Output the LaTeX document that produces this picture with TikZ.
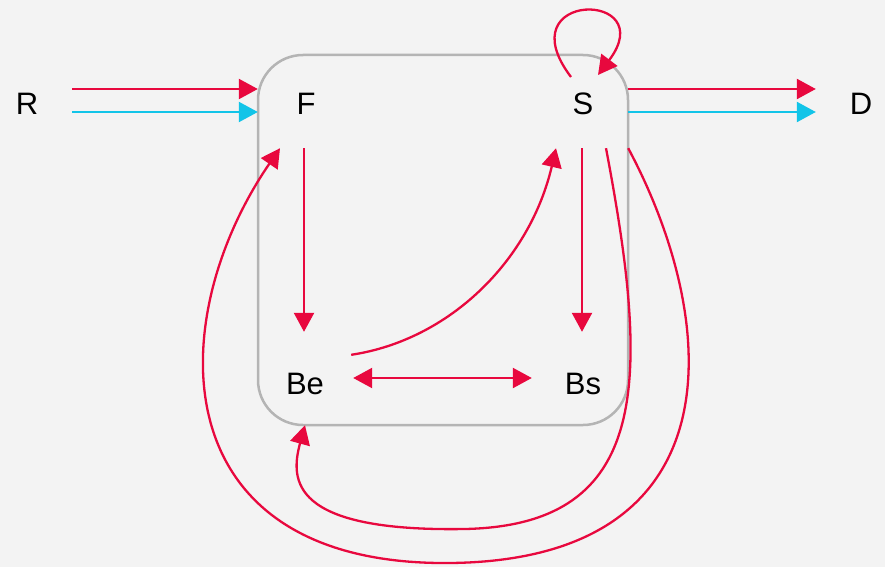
\documentclass[tikz,border=0pt]{standalone}
\usepackage{fontspec}
\setmainfont{Liberation Sans}
\usepackage{xcolor}
\definecolor{flowRed}{HTML}{E8083E}
\definecolor{flowBlue}{HTML}{12C4E8}
\definecolor{boxGray}{HTML}{B4B4B4}
\definecolor{bgGray}{HTML}{F3F3F3}
\usetikzlibrary{arrows.meta}
\tikzset{
  stock/.style={inner sep=0pt, minimum width=96pt, minimum height=90pt, text height=22pt, text depth=0pt, font=\fontsize{31}{36}\selectfont},
  redflow/.style={flowRed, line width=2.3pt, -{Triangle[length=19pt, width=20pt]}},
  blueflow/.style={flowBlue, line width=2.3pt, -{Triangle[length=19pt, width=20pt]}},
}

\begin{document}
\begin{tikzpicture}[x=1pt, y=-1pt]
  \filldraw[fill=bgGray, draw=none] (0,0) rectangle (885,567);
  \useasboundingbox (0,0) rectangle (885,567);
  \draw[boxGray, line width=2.5pt, rounded corners=45pt] (258,55) rectangle (628,425);
  \node[stock, minimum width=90pt] (R) at (27,103) {R};
  \node[stock] (F) at (306,103) {F};
  \node[stock] (S) at (583,103) {S};
  \node[stock, minimum width=90pt] (D) at (861,103) {D};
  \node[stock] (Be) at (305,383) {Be};
  \node[stock] (Bs) at (583,383) {Bs};
  \draw[redflow] ([yshift=14pt]R.east) -- ([yshift=14pt]F.west);
  \draw[blueflow] ([yshift=-9pt]R.east) -- ([yshift=-9pt]F.west);
  \draw[redflow] ([xshift=-3pt, yshift=14pt]S.east) -- ([yshift=14pt]D.west);
  \draw[blueflow] ([xshift=-3pt, yshift=-9pt]S.east) -- ([yshift=-9pt]D.west);
  \draw[redflow] ([xshift=-2pt]F.south) -- ([xshift=-1pt, yshift=6pt]Be.north);
  \draw[redflow] ([xshift=-1pt]S.south) -- ([xshift=-1pt, yshift=6pt]Bs.north);
  \draw[redflow, {Triangle[length=19pt, width=20pt]}-{Triangle[length=19pt, width=20pt]}] ([yshift=5pt]Be.east) -- ([xshift=-3pt, yshift=5pt]Bs.west);
  \draw[redflow] ([xshift=-2pt, yshift=-17pt]Be.north east) .. controls (450,340) and (530,260) .. ([xshift=-27pt]S.south);
  % loops round the box
  \draw[redflow] ([xshift=-12pt, yshift=26pt]S.center) .. controls (505,-10) and (662,-10) .. ([xshift=15pt, yshift=28pt]S.center);
  \draw[redflow] ([xshift=23pt]S.south) .. controls (650,380) and (652,525) .. (465,529) .. controls (290,532) and (290,480) .. ([yshift=3pt]Be.south);
  \draw[redflow] ([xshift=-3pt]S.south east) .. controls (720,320) and (740,560) .. (450,563) .. controls (160,566) and (162,320) .. ([xshift=-26pt]F.south);
\end{tikzpicture}
\end{document}
